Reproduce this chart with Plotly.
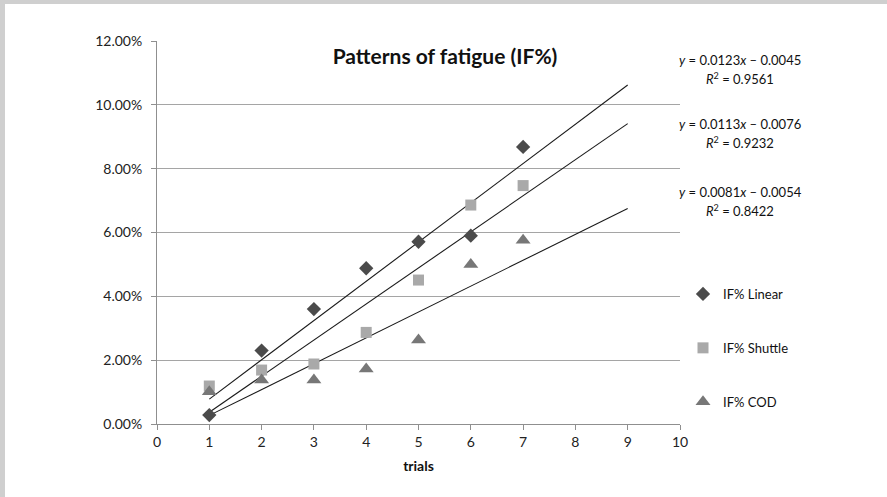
import plotly.graph_objects as go
import numpy as np

trials = [1, 2, 3, 4, 5, 6, 7]
if_linear = [0.0028, 0.0230, 0.0360, 0.0488, 0.0571, 0.0590, 0.0868]
if_shuttle = [0.0119, 0.0169, 0.0188, 0.0287, 0.0451, 0.0686, 0.0747]
if_cod = [0.0101, 0.0138, 0.0138, 0.0172, 0.0263, 0.0500, 0.0576]

series_names = ["IF% Linear", "IF% Shuttle", "IF% COD"]
trend_slopes = [0.0123, 0.0113, 0.0081]
trend_intercepts = [-0.0045, -0.0076, -0.0054]
trend_r2 = [0.9561, 0.9232, 0.8422]
trend_x = [1, 9]

x_ticks = list(range(0, 11))
y_ticks = [0, 0.02, 0.04, 0.06, 0.08, 0.10, 0.12]

FONT = "Lato"
W, H = 887, 497
L, R, T, B = 157, 207, 41, 73
PW, PH = W - L - R, H - T - B

def px_x(px):
    return (px - L) / PW

def px_y(py):
    return (H - B - py) / PH

fig = go.Figure()

styles = [
    dict(symbol="diamond", color="#4b4b4b", size=11),
    dict(symbol="square", color="#a9a9a9", size=11),
    dict(symbol="triangle-up", color="#777777", size=13),
]
data = [if_linear, if_shuttle, if_cod]

# trendlines
for s, b in zip(trend_slopes, trend_intercepts):
    xs = np.array(trend_x, dtype=float)
    fig.add_trace(go.Scatter(x=xs, y=s * xs + b, mode="lines",
                             line=dict(color="#1a1a1a", width=1.1),
                             showlegend=False, hoverinfo="skip"))

for i, (name, vals, st) in enumerate(zip(series_names, data, styles)):
    fig.add_trace(go.Scatter(x=trials, y=vals, mode="markers", name=name,
                             legendgroup=f"g{i}",
                             marker=dict(symbol=st["symbol"], color=st["color"],
                                         size=st["size"], line=dict(width=0))))

# equation annotations
eq_y = [60, 124, 192]
for s, b, r2, py in zip(trend_slopes, trend_intercepts, trend_r2, eq_y):
    sign = "–" if b < 0 else "+"
    fig.add_annotation(xref="paper", yref="paper", x=px_x(740), y=px_y(py),
                       text=f"<i>y</i> = {s:.4f}<i>x</i> {sign} {abs(b):.4f}",
                       showarrow=False, xanchor="center", yanchor="middle",
                       font=dict(family=FONT, size=13, color="#111111"))
    fig.add_annotation(xref="paper", yref="paper", x=px_x(740), y=px_y(py + 18),
                       text=f"<i>R</i><sup>2</sup> = {r2:.4f}",
                       showarrow=False, xanchor="center", yanchor="middle",
                       font=dict(family=FONT, size=13, color="#111111"))

# gray border strips
fig.add_shape(type="rect", xref="paper", yref="paper",
              x0=px_x(0), x1=px_x(5), y0=px_y(H), y1=px_y(0),
              fillcolor="#cfcfcf", line=dict(width=0), layer="below")
fig.add_shape(type="rect", xref="paper", yref="paper",
              x0=px_x(0), x1=px_x(W), y0=px_y(4), y1=px_y(0),
              fillcolor="#cfcfcf", line=dict(width=0), layer="below")

fig.update_layout(
    width=W, height=H,
    margin=dict(l=L, r=R, t=T, b=B, pad=0),
    paper_bgcolor="white", plot_bgcolor="white",
    font=dict(family=FONT, size=13, color="#222222"),
    title=dict(text="<b>Patterns of fatigue (IF%)</b>", x=445 / W,
               xanchor="center", y=1 - 57 / H, yanchor="middle",
               font=dict(family=FONT, size=21, color="#111111")),
    showlegend=True,
    legend=dict(x=px_x(683), y=px_y(279), xanchor="left", yanchor="top",
                traceorder="grouped", tracegroupgap=34,
                font=dict(family=FONT, size=13, color="#111111"),
                bgcolor="rgba(0,0,0,0)", itemwidth=30),
    xaxis=dict(range=[0, 10], tickvals=x_ticks, showgrid=False, zeroline=False,
               showline=True, linecolor="#8f8f8f", linewidth=1,
               ticks="outside", ticklen=5, tickcolor="#8f8f8f",
               tickfont=dict(family=FONT, size=14, color="#222222"),
               title=dict(text="<b>trials</b>", font=dict(family=FONT, size=14, color="#111111"),
                          standoff=12)),
    yaxis=dict(range=[0, 0.12], tickvals=y_ticks, tickformat=".2%",
               showgrid=True, gridcolor="#a5a5a5", gridwidth=1, zeroline=False,
               showline=True, linecolor="#8f8f8f", linewidth=1,
               ticks="outside", ticklen=5, tickcolor="#8f8f8f",
               ticklabelstandoff=6,
               tickfont=dict(family=FONT, size=14, color="#222222")),
)

fig.write_html("out.html")
